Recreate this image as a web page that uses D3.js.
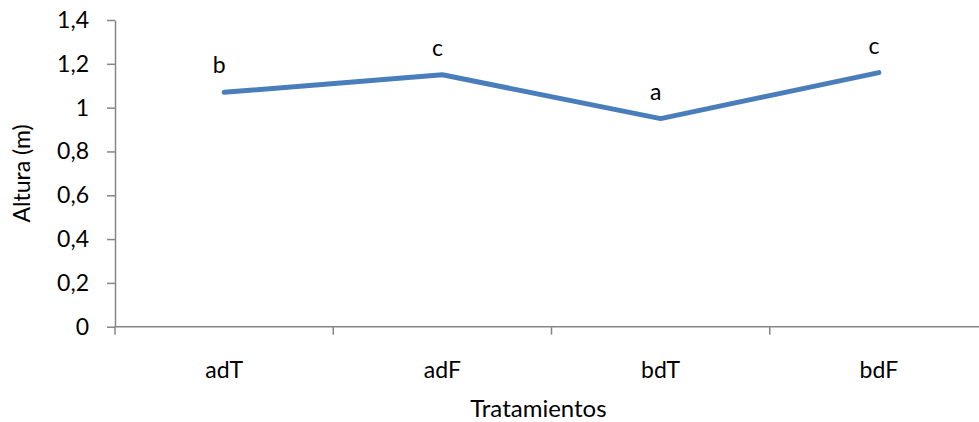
<!DOCTYPE html>
<html>
<head>
<meta charset="utf-8">
<script src="https://cdn.jsdelivr.net/npm/d3@7"></script>
<style>
  body { margin: 0; background: #fff; }
  text { font-family: Lato, "Open Sans", sans-serif; fill: #000; }
</style>
</head>
<body>
<div id="chart"></div>
<script>
// Data
const categories = ['adT', 'adF', 'bdT', 'bdF'];
const heights = [1.07, 1.15, 0.95, 1.16];
const letters = ['b', 'c', 'a', 'c'];
const yTicks = [0, 0.2, 0.4, 0.6, 0.8, 1, 1.2, 1.4];

const width = 979, height = 422;
const margin = {top: 20, right: -9, bottom: 95, left: 115};
const fontSize = '23px';

const svg = d3.select('#chart').append('svg')
    .attr('width', width)
    .attr('height', height);

const x = d3.scaleBand()
    .domain(categories)
    .range([margin.left, width - margin.right])
    .paddingInner(0).paddingOuter(0);

const y = d3.scaleLinear()
    .domain([0, 1.4])
    .range([height - margin.bottom - 0.3, margin.top]);

const fmt = d => d3.format('.1f')(d).replace('.', ',').replace(/,0$/, '');

// Y axis
const yAxis = svg.append('g')
    .attr('transform', `translate(${margin.left},0)`)
    .call(d3.axisLeft(y).tickValues(yTicks).tickSize(8).tickSizeOuter(0).tickPadding(18).tickFormat(fmt));
yAxis.select('.domain').attr('stroke', '#868686').attr('stroke-width', 1.5);
yAxis.selectAll('.tick line').attr('stroke', '#868686').attr('stroke-width', 1.5);
yAxis.selectAll('.tick text').style('font-size', fontSize).attr('font-family', null);

// X axis with ticks at band boundaries
const xBase = y(0);
svg.append('line')
    .attr('x1', margin.left).attr('x2', width)
    .attr('y1', xBase).attr('y2', xBase)
    .attr('stroke', '#868686').attr('stroke-width', 1.5);
const bounds = categories.map(c => x(c));
svg.selectAll('.xtick')
    .data(bounds)
    .join('line')
    .attr('class', 'xtick')
    .attr('x1', d => d).attr('x2', d => d)
    .attr('y1', xBase).attr('y2', xBase + 8)
    .attr('stroke', '#868686').attr('stroke-width', 1.5);
svg.selectAll('.xlabel')
    .data(categories)
    .join('text')
    .attr('class', 'xlabel')
    .attr('x', d => x(d) + x.bandwidth() / 2)
    .attr('y', xBase + 51)
    .attr('text-anchor', 'middle')
    .style('font-size', fontSize)
    .text(d => d);

// Axis titles
svg.append('text')
    .attr('x', width * 0.55)
    .attr('y', 417)
    .attr('text-anchor', 'middle')
    .style('font-size', '24px')
    .text('Tratamientos');
svg.append('text')
    .attr('transform', `translate(30,${y(0.7)}) rotate(-90)`)
    .attr('text-anchor', 'middle')
    .style('font-size', fontSize)
    .text('Altura (m)');

// Line
const pts = categories.map((c, i) => ({c: c, v: heights[i], l: letters[i]}));
svg.append('path')
    .datum(pts)
    .attr('fill', 'none')
    .attr('stroke', '#4a7ebb')
    .attr('stroke-width', 5)
    .attr('stroke-linecap', 'round')
    .attr('stroke-linejoin', 'round')
    .attr('d', d3.line().x(d => x(d.c) + x.bandwidth() / 2).y(d => y(d.v)));

// Significance letters
svg.selectAll('.letter')
    .data(pts)
    .join('text')
    .attr('class', 'letter')
    .attr('x', d => x(d.c) + x.bandwidth() / 2 - 5)
    .attr('y', d => y(d.v) - 19)
    .attr('text-anchor', 'middle')
    .style('font-size', fontSize)
    .text(d => d.l);
</script>
</body>
</html>
